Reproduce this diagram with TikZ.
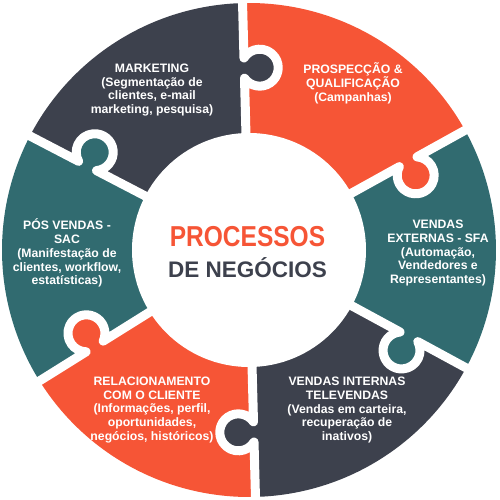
\documentclass[tikz,border=0pt]{standalone}
\usepackage{fontspec}
\setmainfont{Liberation Sans}
\newfontfamily\narrowfont[FakeStretch=0.85]{Liberation Sans}
\definecolor{puzzleorange}{RGB}{246,85,54}
\definecolor{puzzledark}{RGB}{61,65,77}
\definecolor{puzzleteal}{RGB}{49,107,112}
\tikzset{
  seam/.style={draw=white,line width=0.225cm,line join=round,line cap=round},
  piecetext/.style={text=white,font=\fontsize{8.7}{9.9}\selectfont\bfseries,align=center}
}
\begin{document}
\begin{tikzpicture}[x=0.025cm,y=0.025cm]
  \useasboundingbox (-249,-250) rectangle (251,250);
  \foreach \a/\b/\c in {91.5/152.5/puzzledark,29/91.5/puzzleorange,-28.5/29/puzzleteal,
                        -88.5/-28.5/puzzledark,-148/-88.5/puzzleorange,-207.5/-148/puzzleteal}
    \fill[\c] (0,0) -- (\a:247) arc[start angle=\a,end angle=\b,radius=247] -- cycle;
  \foreach \t/\c in {91.5/puzzledark,29/puzzleorange,-28.5/puzzleteal,
                     -88.5/puzzledark,-148/puzzleorange,152.5/puzzleteal}{
    \begin{scope}[rotate=\t]
      \fill[\c] (182,-15.5) circle[radius=18.5];
      \draw[seam] (100,0) -- (171.9,0) arc[start angle=123.1,end angle=416.9,radius=18.5] -- (262,0);
    \end{scope}
  }
  \fill[white] (0,0) circle[radius=117];

  \node[piecetext] (marketing) at (-97,160) {MARKETING\\(Segmentação de\\clientes, e-mail\\marketing, pesquisa)};
  \node[piecetext] (prospeccao) at (104,167) {PROSPECÇÃO \&\\QUALIFICAÇÃO\\(Campanhas)};
  \node[piecetext] (externas) at (189,-3) {VENDAS\\EXTERNAS - SFA\\(Automação,\\Vendedores e\\Representantes)};
  \node[piecetext] (internas) at (98,-160) {VENDAS INTERNAS\\TELEVENDAS\\(Vendas em carteira,\\recuperação de\\inativos)};
  \node[piecetext] (relacionamento) at (-97,-160) {RELACIONAMENTO\\COM O CLIENTE\\(Informações, perfil,\\oportunidades,\\negócios, históricos)};
  \node[piecetext] (posvendas) at (-182,-3) {PÓS VENDAS -\\SAC\\(Manifestação de\\clientes, workflow,\\estatísticas)};
  \node[text=puzzleorange,font=\narrowfont\fontsize{20.5}{24}\selectfont\bfseries] (processos) at (-1.5,13) {PROCESSOS};
  \node[text=puzzledark,font=\fontsize{16}{18}\selectfont\bfseries] (negocios) at (-1.5,-17.5) {DE NEGÓCIOS};
\end{tikzpicture}
\end{document}
